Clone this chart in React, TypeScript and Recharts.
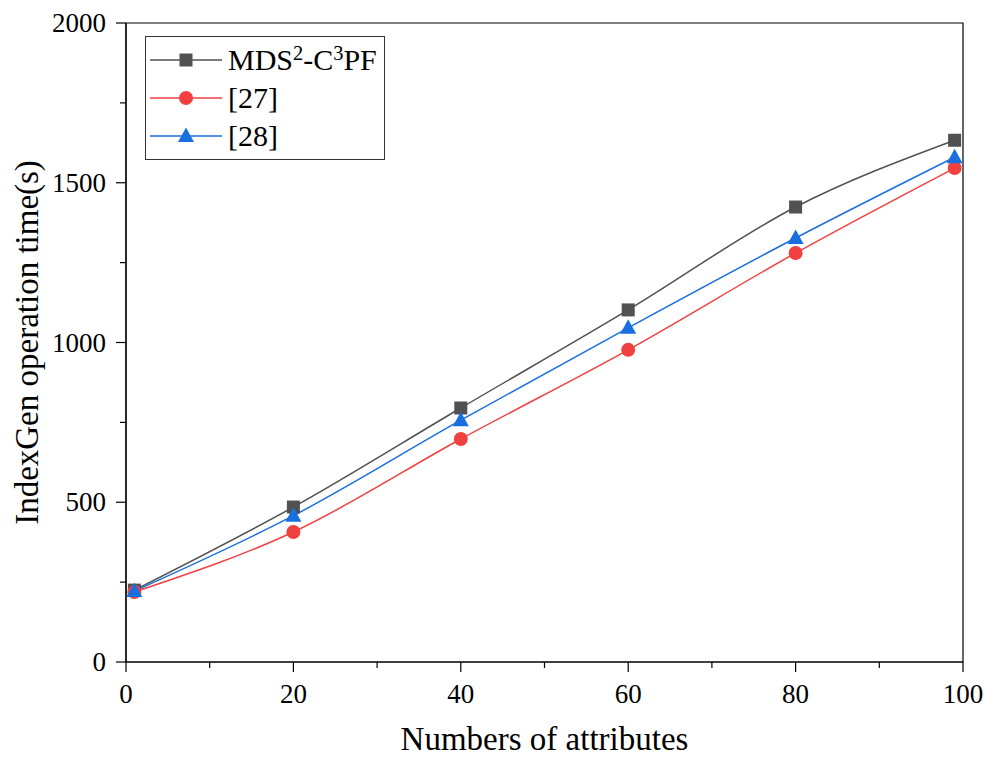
import { LineChart, Line, XAxis, YAxis, Legend, ReferenceArea, Label } from "recharts";

// x positions of the measurements (number of attributes)
const attributes = [1, 20, 40, 60, 80, 99];

// IndexGen operation time (s)
const mdsTimes = [225, 485, 795, 1102, 1424, 1633];
const ref27Times = [219, 407, 698, 977, 1280, 1546];
const ref28Times = [222, 458, 757, 1046, 1327, 1580];

const xTicks = [0, 10, 20, 30, 40, 50, 60, 70, 80, 90, 100];
const yTicks = [0, 250, 500, 750, 1000, 1250, 1500, 1750, 2000];

const FONT = '"Liberation Serif", "Times New Roman", serif';

const series = [
  { key: "mds", name: "MDS^2-C^3PF", color: "#515151", shape: "square" },
  { key: "r27", name: "[27]", color: "#F14040", shape: "circle" },
  { key: "r28", name: "[28]", color: "#1A6FDF", shape: "triangle" },
];

const data = attributes.map((x, i) => ({
  x,
  mds: mdsTimes[i],
  r27: ref27Times[i],
  r28: ref28Times[i],
}));

function Marker({ cx, cy, shape, color }: any) {
  if (cx == null || cy == null) return null;
  if (shape === "square") {
    return <rect x={cx - 6.5} y={cy - 6.5} width={13} height={13} fill={color} />;
  }
  if (shape === "circle") {
    return <circle cx={cx} cy={cy} r={7} fill={color} />;
  }
  return (
    <polygon
      points={`${cx},${cy - 8.5} ${cx + 8},${cy + 6} ${cx - 8},${cy + 6}`}
      fill={color}
    />
  );
}

// "MDS^2-C^3PF" -> MDS<sup>2</sup>-C<sup>3</sup>PF
function SupText({ text }: { text: string }) {
  const parts = text.split(/\^(\d)/);
  return (
    <>
      {parts.map((p, i) =>
        i % 2 === 1 ? (
          <sup key={i} style={{ fontSize: "0.68em", verticalAlign: "0.5em", lineHeight: 0 }}>
            {p}
          </sup>
        ) : (
          <span key={i}>{p}</span>
        )
      )}
    </>
  );
}

function LegendBox() {
  return (
    <div
      style={{
        border: "1.5px solid #333",
        background: "#fff",
        padding: "4px 6px 4px 4px",
        fontFamily: FONT,
        fontSize: 30,
        lineHeight: "38px",
        width: 240,
        boxSizing: "border-box",
      }}
    >
      {series.map((s) => (
        <div key={s.key} style={{ display: "flex", alignItems: "center", height: 38 }}>
          <svg width={74} height={20} style={{ marginRight: 4 }}>
            <line x1={0} x2={72} y1={10} y2={10} stroke={s.color} strokeWidth={1.5} />
            <Marker cx={36} cy={10} shape={s.shape} color={s.color} />
          </svg>
          <span style={{ color: "#000", whiteSpace: "nowrap" }}>
            <SupText text={s.name} />
          </span>
        </div>
      ))}
    </div>
  );
}

function XTick({ x, y, payload }: any) {
  const major = payload.value % 20 === 0;
  return (
    <g>
      <line x1={x} x2={x} y1={y} y2={y + (major ? 10 : 6)} stroke="#000" strokeWidth={1.2} />
      {major && (
        <text x={x} y={y + 41} textAnchor="middle" fontFamily={FONT} fontSize={27} fill="#000">
          {payload.value}
        </text>
      )}
    </g>
  );
}

function YTick({ x, y, payload }: any) {
  const major = payload.value % 500 === 0;
  return (
    <g>
      <line x1={x} x2={x - (major ? 10 : 6)} y1={y} y2={y} stroke="#000" strokeWidth={1.2} />
      {major && (
        <text x={x - 20} y={y + 9} textAnchor="end" fontFamily={FONT} fontSize={27} fill="#000">
          {payload.value}
        </text>
      )}
    </g>
  );
}

export default function App() {
  return (
    <div style={{ position: "absolute", left: 0, top: 0, background: "#fff" }}>
      <LineChart
        width={985}
        height={758}
        data={data}
        margin={{ top: 23, right: 22, bottom: 0, left: 0 }}
      >
        <XAxis
          dataKey="x"
          type="number"
          domain={[0, 100]}
          ticks={xTicks}
          interval={0}
          height={96}
          tickSize={0}
          tickMargin={0}
          tickLine={false}
          axisLine={{ stroke: "#000", strokeWidth: 1.2 }}
          tick={<XTick />}
        >
          <Label
            content={({ viewBox }: any) => (
              <text
                x={viewBox.x + viewBox.width / 2}
                y={viewBox.y + 88}
                textAnchor="middle"
                fontFamily={FONT}
                fontSize={33}
                fill="#000"
              >
                Numbers of attributes
              </text>
            )}
          />
        </XAxis>
        <YAxis
          type="number"
          domain={[0, 2000]}
          ticks={yTicks}
          interval={0}
          width={126}
          tickSize={0}
          tickMargin={0}
          tickLine={false}
          axisLine={{ stroke: "#000", strokeWidth: 1.2 }}
          tick={<YTick />}
        >
          <Label
            content={({ viewBox }: any) => {
              const cx = 38;
              const cy = viewBox.y + viewBox.height / 2;
              return (
                <text
                  x={cx}
                  y={cy}
                  transform={`rotate(-90 ${cx} ${cy})`}
                  textAnchor="middle"
                  fontFamily={FONT}
                  fontSize={33}
                  fill="#000"
                >
                  IndexGen operation time(s)
                </text>
              );
            }}
          />
        </YAxis>
        <ReferenceArea
          x1={0}
          x2={100}
          y1={0}
          y2={2000}
          fill="none"
          stroke="#000"
          strokeWidth={1.2}
          ifOverflow="visible"
        />
        <Legend
          layout="vertical"
          align="center"
          verticalAlign="middle"
          content={() => <LegendBox />}
          wrapperStyle={{ left: 145, top: 36, width: 240 }}
        />
        {series.map((s) => (
          <Line
            key={s.key}
            dataKey={s.key}
            name={s.name}
            type="monotone"
            stroke={s.color}
            strokeWidth={1.5}
            isAnimationActive={false}
            dot={(p: any) => <Marker key={`${s.key}-${p.index}`} cx={p.cx} cy={p.cy} shape={s.shape} color={s.color} />}
            activeDot={false}
          />
        ))}
      </LineChart>
    </div>
  );
}
